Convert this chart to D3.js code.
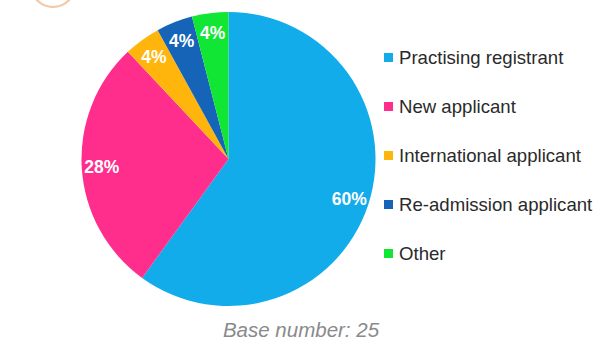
<!DOCTYPE html>
<html>
<head>
<meta charset="utf-8">
<script src="https://cdn.jsdelivr.net/npm/d3@7"></script>
<style>
  html, body { margin: 0; padding: 0; background: #fff; }
  svg { display: block; }
</style>
</head>
<body>
<svg id="chart" width="616" height="342"></svg>
<script>
// Applicant types (share of respondents, %)
const categories = ["Practising registrant", "New applicant", "International applicant", "Re-admission applicant", "Other"];
const values = [60, 28, 4, 4, 4];
const colors = ["#13aceb", "#ff2d8c", "#ffb50c", "#1664b8", "#12e634"];
const baseNumber = 25;

const svg = d3.select("#chart");
const cx = 228.5, cy = 159, R = 147;

// Decorative badge ring in the top-left corner
svg.append("circle")
  .attr("cx", 53).attr("cy", -15).attr("r", 22)
  .attr("fill", "none")
  .attr("stroke", "#efb98f")
  .attr("stroke-width", 2.2)
  .attr("opacity", 0.8);

const data = categories.map((c, i) => ({ name: c, value: values[i], color: colors[i] }));

const pie = d3.pie().value(d => d.value).sort(null);
const arc = d3.arc().innerRadius(0).outerRadius(R);
const labelArc = d3.arc().innerRadius(127).outerRadius(127);

const g = svg.append("g").attr("transform", `translate(${cx},${cy})`);
const arcs = pie(data);

g.selectAll("path.slice")
  .data(arcs)
  .join("path")
  .attr("class", "slice")
  .attr("d", arc)
  .attr("fill", d => d.data.color);

g.selectAll("text.pct")
  .data(arcs)
  .join("text")
  .attr("class", "pct")
  .attr("transform", d => `translate(${labelArc.centroid(d)})`)
  .attr("text-anchor", "middle")
  .attr("dy", "0.36em")
  .attr("fill", "#ffffff")
  .attr("font-family", "Liberation Sans, Arial, sans-serif")
  .attr("font-weight", "bold")
  .attr("font-size", 17.5)
  .text(d => d.data.value + "%");

// Legend
const legendY = d3.scalePoint().domain(categories).range([57.5, 253.5]);
const items = svg.append("g").selectAll("g.item")
  .data(data)
  .join("g")
  .attr("class", "item")
  .attr("transform", d => `translate(384,${legendY(d.name)})`);

items.append("rect")
  .attr("x", 0).attr("y", -4.5)
  .attr("width", 9).attr("height", 9)
  .attr("fill", d => d.color);

items.append("text")
  .attr("x", 15)
  .attr("dy", "0.35em")
  .attr("fill", "#2a2a2a")
  .attr("font-family", "Liberation Sans, Arial, sans-serif")
  .attr("font-size", 18.6)
  .text(d => d.name);

// Footnote
svg.append("text")
  .attr("x", 301).attr("y", 337)
  .attr("text-anchor", "middle")
  .attr("fill", "#8a8a8a")
  .attr("font-family", "Liberation Sans, Arial, sans-serif")
  .attr("font-style", "italic")
  .attr("font-size", 20.5)
  .text("Base number: " + baseNumber);
</script>
</body>
</html>
